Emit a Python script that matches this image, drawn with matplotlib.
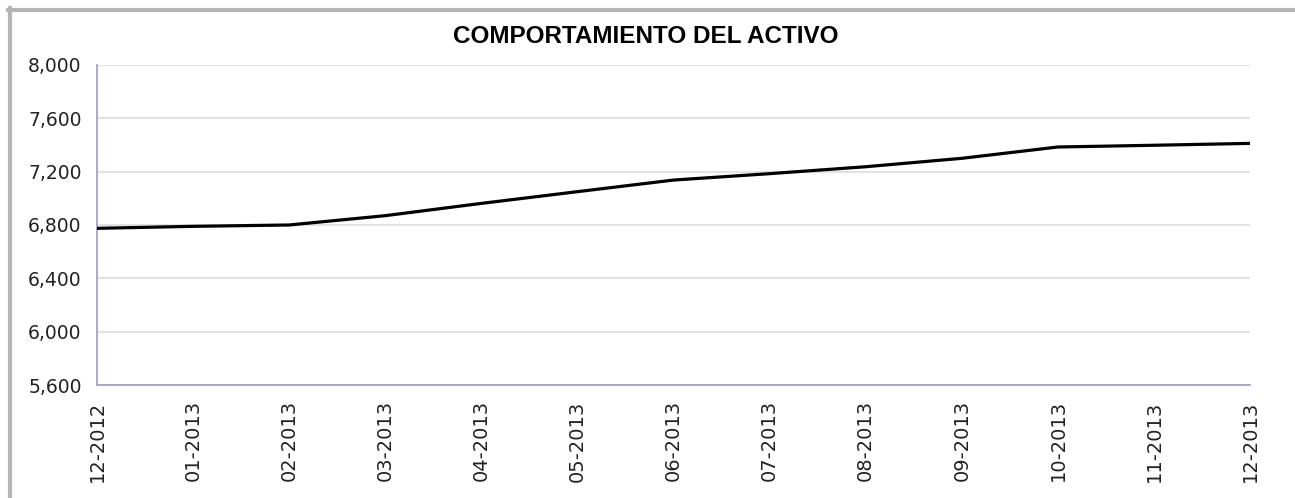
import matplotlib
matplotlib.use("Agg")
import matplotlib.pyplot as plt
from matplotlib.lines import Line2D
from matplotlib.ticker import FuncFormatter

months = ["12-2012", "01-2013", "02-2013", "03-2013", "04-2013", "05-2013", "06-2013",
          "07-2013", "08-2013", "09-2013", "10-2013", "11-2013", "12-2013"]
activo = [6775, 6790, 6800, 6870, 6962, 7050, 7137, 7185, 7237, 7300, 7385, 7398, 7412]
yticks = [5600, 6000, 6400, 6800, 7200, 7600, 8000]

plt.rcParams['font.family'] = ['DejaVu Sans']

fig = plt.figure(figsize=(12.95, 4.98), dpi=100)
ax = fig.add_axes([0.0749, 0.2269, 0.8904, 0.6426])

x = list(range(len(months)))
ax.plot(x, activo, color="black", lw=2.3, solid_joinstyle="round", zorder=3)

ax.set_xlim(0, len(months) - 1)
ax.set_ylim(yticks[0], yticks[-1])
ax.set_yticks(yticks)
ax.yaxis.set_major_formatter(FuncFormatter(lambda v, p: f"{v:,.0f}"))
ax.set_xticks(x)
ax.set_xticklabels(months, rotation=90, va="top", ha="center")

ax.grid(axis="y", color="#e2e2ea", lw=1.5)
ax.set_axisbelow(True)
for s in ["top", "right"]:
    ax.spines[s].set_visible(False)
for s in ["left", "bottom"]:
    ax.spines[s].set_color("#9c9cc4")
    ax.spines[s].set_linewidth(1.2)
ax.tick_params(axis="both", length=0, colors="#222222")
ax.tick_params(axis="y", pad=11, labelsize=13.5)
ax.tick_params(axis="x", pad=11, labelsize=14)

fig.text(0.4985, 0.927, "COMPORTAMIENTO DEL ACTIVO", ha="center", va="center",
         fontsize=17.5, fontweight="bold", family=["Liberation Sans", "DejaVu Sans"])

# grey frame round the chart (top and left edges)
fig.add_artist(Line2D([8 / 1295, 1], [1 - 10 / 498, 1 - 10 / 498], color="#b4b4b4", lw=3))
fig.add_artist(Line2D([9.5 / 1295, 9.5 / 1295], [0, 1 - 8 / 498], color="#b4b4b4", lw=3))

fig.savefig("out.png", dpi=100, facecolor="white")
